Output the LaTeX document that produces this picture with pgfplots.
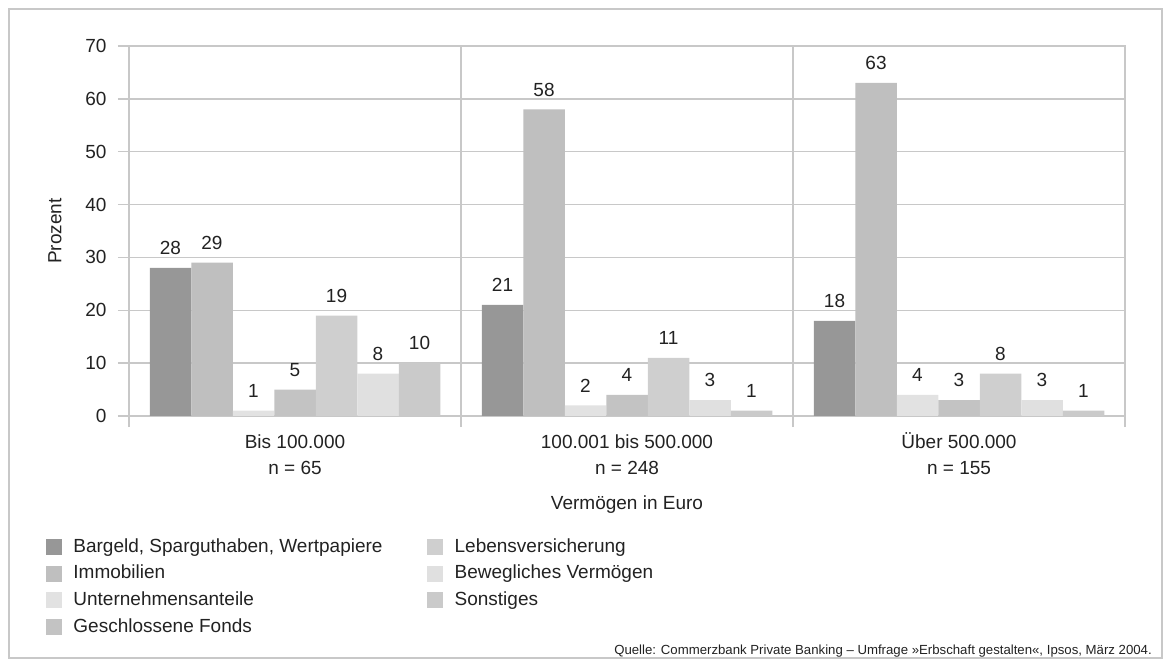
\documentclass[border=0pt]{standalone}
\usepackage{pgfplots}
\pgfplotsset{compat=1.18}
\usepackage{fontspec}
\setmainfont{Liberation Sans}
\definecolor{cA}{HTML}{979797}
\definecolor{cB}{HTML}{BFBFBF}
\definecolor{cC}{HTML}{E2E2E2}
\definecolor{cD}{HTML}{C3C3C3}
\definecolor{cE}{HTML}{CFCFCF}
\definecolor{cF}{HTML}{E0E0E0}
\definecolor{cG}{HTML}{CACACA}
\definecolor{gridc}{HTML}{C8C8C8}
\definecolor{txt}{HTML}{222222}
\newcommand\fs{\fontsize{19pt}{26pt}\selectfont}
\begin{document}
\begin{tikzpicture}[x=1pt,y=1pt]
\path (0,0) rectangle (1166,666);
\draw[gridc, line width=1.5pt] (9,8) rectangle (1162,657);
\begin{axis}[
  at={(129pt,250pt)}, anchor=south west,
  scale only axis, width=996pt, height=370pt,
  xmin=-0.5, xmax=2.5, ymin=0, ymax=70,
  ytick={0,10,...,70},
  xtick={-0.5,0.5,1.5,2.5},
  x tick label as interval,
  xticklabels={{\vphantom{Ü}Bis 100.000\\n = 65},{\vphantom{Ü}100.001 bis 500.000\\n = 248},{\vphantom{Ü}Über 500.000\\n = 155}},
  xticklabel style={align=center, font=\fs, text=txt, yshift=-2pt},
  yticklabel style={font=\fs, text=txt, xshift=-8pt},
  /pgf/number format/assume math mode=true,
  grid=major,
  major grid style={gridc, line width=1.5pt},
  axis line style={gridc, line width=1.5pt},
  tick style={gridc, line width=1.5pt},
  tick align=outside, tick pos=left,
  major tick length=11pt,
  ylabel={Prozent},
  ylabel style={at={(axis description cs:-0.0743,0.5)}, anchor=center, font=\fs, text=txt},
  xlabel={Vermögen in Euro},
  xlabel style={at={(axis description cs:0.5,-0.24)}, anchor=center, font=\fs, text=txt},
  nodes near coords,
  nodes near coords style={font=\fs, text=txt, anchor=south, inner sep=0pt, yshift=13pt},
  legend image code/.code={\fill[draw=none,#1] (0pt,-8pt) rectangle (16pt,8pt); \path (25pt,0pt);},
  legend columns=2,
  legend style={draw=none, fill=none, at={(axis description cs:-0.0833,-0.324)}, anchor=north west,
     font=\fs, text=txt, inner sep=0pt, row sep=4.7pt,
     nodes={inner sep=2pt, text height=14pt, text depth=4pt}},
  legend cell align=left,
]
\addplot[ybar, bar width=0.125, bar shift=-0.375, fill=cA, draw=none, forget plot,
  every node near coord/.append style={xshift=-124.5pt}] coordinates {(0,28) (1,21) (2,18)};
\addplot[ybar, bar width=0.125, bar shift=-0.25, fill=cB, draw=none, forget plot,
  every node near coord/.append style={xshift=-83pt}] coordinates {(0,29) (1,58) (2,63)};
\addplot[ybar, bar width=0.125, bar shift=-0.125, fill=cC, draw=none, forget plot,
  every node near coord/.append style={xshift=-41.5pt}] coordinates {(0,1) (1,2) (2,4)};
\addplot[ybar, bar width=0.125, bar shift=0, fill=cD, draw=none, forget plot] coordinates {(0,5) (1,4) (2,3)};
\addplot[ybar, bar width=0.125, bar shift=0.125, fill=cE, draw=none, forget plot,
  every node near coord/.append style={xshift=41.5pt}] coordinates {(0,19) (1,11) (2,8)};
\addplot[ybar, bar width=0.125, bar shift=0.25, fill=cF, draw=none, forget plot,
  every node near coord/.append style={xshift=83pt}] coordinates {(0,8) (1,3) (2,3)};
\addplot[ybar, bar width=0.125, bar shift=0.375, fill=cG, draw=none, forget plot,
  every node near coord/.append style={xshift=124.5pt}] coordinates {(0,10) (1,1) (2,1)};
\addlegendimage{fill=cA}\addlegendentry{\makebox[352pt][l]{Bargeld, Sparguthaben, Wertpapiere}}
\addlegendimage{fill=cE}\addlegendentry{Lebensversicherung}
\addlegendimage{fill=cB}\addlegendentry{\makebox[352pt][l]{Immobilien}}
\addlegendimage{fill=cF}\addlegendentry{Bewegliches Vermögen}
\addlegendimage{fill=cC}\addlegendentry{\makebox[352pt][l]{Unternehmensanteile}}
\addlegendimage{fill=cG}\addlegendentry{Sonstiges}
\addlegendimage{fill=cD}\addlegendentry{\makebox[352pt][l]{Geschlossene Fonds}}
\end{axis}
\node[anchor=east, font=\fontsize{13.2pt}{15pt}\selectfont, text=txt, inner sep=0pt] at (1152,15) {Quelle: Commerzbank Private Banking – Umfrage »Erbschaft gestalten«, Ipsos, März 2004.};
\end{tikzpicture}
\end{document}
